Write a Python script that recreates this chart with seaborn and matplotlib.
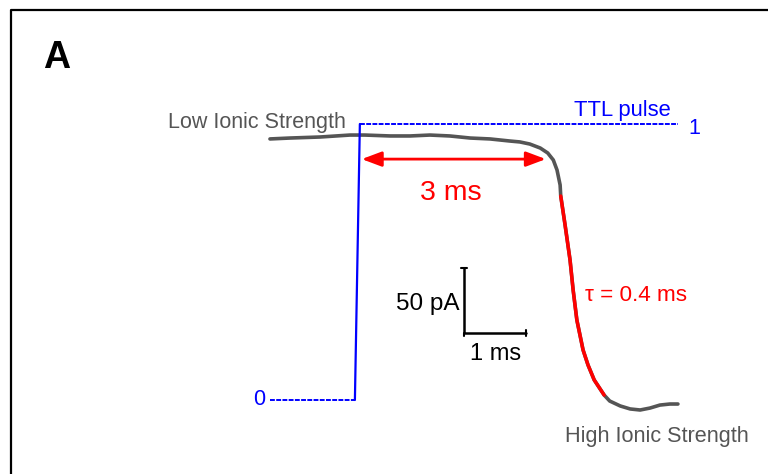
import numpy as np
import pandas as pd
import matplotlib
matplotlib.use("Agg")
import matplotlib.pyplot as plt
import seaborn as sns
from matplotlib.lines import Line2D
from matplotlib.transforms import Affine2D

# =====================================================
# Data (time in ms from TTL onset, current in pA)
# =====================================================
trace_t = [-1.42, -1.10, -0.61, -0.13, 0.11, 0.52, 0.84, 1.16, 1.48, 1.81,
           2.13, 2.45, 2.61, 2.77, 2.94, 3.06, 3.15, 3.21, 3.26, 3.27,
           3.34, 3.42, 3.47, 3.53, 3.63, 3.71, 3.81, 3.97, 4.06, 4.23,
           4.39, 4.55, 4.71, 4.87, 5.03, 5.16]
trace_i = [-1.5, -0.8, 0.0, 1.5, 1.5, 0.8, 0.8, 1.5, 0.8, -0.8,
           -1.5, -3.1, -3.8, -5.4, -8.5, -12.3, -17.7, -25.4, -36.9, -45.4,
           -67.7, -94.6, -117.7, -140.8, -163.8, -175.4, -186.9, -198.5, -203.1, -206.9,
           -209.2, -210.0, -208.5, -206.2, -205.4, -205.4]

fit_t = [3.27, 3.34, 3.42, 3.47, 3.53, 3.63, 3.71, 3.81, 3.97]
fit_i = [-45.4, -67.7, -94.6, -117.7, -140.8, -163.8, -175.4, -186.9, -198.5]

ttl_low_t = [-1.42, -0.05]
ttl_rise_t = [-0.05, 0.03]
ttl_high_t = [0.03, 5.16]
ttl_levels = [0, 1]

delay_t = [0.06, 3.03]      # "3 ms" arrow
delay_i = -17.0
tau_ms = 0.4

bar_origin = (1.71, -150.8)  # scale bar corner
bar_t = 1.0                  # ms
bar_i = 50.0                 # pA

# =====================================================
# Figure
# =====================================================
sns.set_style("white")
plt.rcParams['font.family'] = ['Liberation Sans', 'DejaVu Sans']

W, H = 768, 474
fig = plt.figure(figsize=(W / 100, H / 100), dpi=100)
ax = fig.add_axes([0, 0, 1, 1])
ax.set_xlim(-358 / 62, (W - 358) / 62)
ax.set_ylim((137 - H) / 1.3, 137 / 1.3)
ax.axis('off')

ax2 = ax.twinx()
ax2.set_ylim(-(H - 400) / 276, 1 + 124 / 276)
ax2.axis('off')

# pixel coords (top-left origin) for labels
pix = Affine2D().scale(1 / W, -1 / H).translate(0, 1) + fig.transFigure

# TTL pulse
blue = "#0000ff"
ax2.plot(ttl_low_t, [ttl_levels[0]] * 2, color=blue, lw=1.4, dashes=(2.5, 0.7))
ax2.plot(ttl_rise_t, ttl_levels, color=blue, lw=1.6)
ax2.plot(ttl_high_t, [ttl_levels[1]] * 2, color=blue, lw=1.4, dashes=(2.5, 0.7))

# current trace + fit
df = pd.DataFrame({"t": trace_t, "i": trace_i})
sns.lineplot(data=df, x="t", y="i", ax=ax, color="#555555", lw=2.6, sort=False)
sns.lineplot(x=fit_t, y=fit_i, ax=ax, color="#ff0000", lw=2.5, sort=False)

# 3 ms arrow
ax.annotate("", xy=(delay_t[1], delay_i), xytext=(delay_t[0], delay_i),
            arrowprops=dict(arrowstyle="<|-|>,head_length=1.2,head_width=0.45",
                            color="#ff0000", lw=2, shrinkA=0, shrinkB=0))

# scale bar
x0, y0 = bar_origin
ax.plot([x0, x0, x0 + bar_t], [y0 + bar_i, y0, y0], color="black", lw=1.8,
        solid_joinstyle="miter")
ax.plot([x0 - 0.05, x0 + 0.05], [y0 + bar_i] * 2, color="black", lw=1.5)
ax.plot([x0 + bar_t] * 2, [y0 - 2.5, y0 + 2.5], color="black", lw=1.5)
ax.plot([x0] * 2, [y0 - 2.5, y0], color="black", lw=1.5)

# labels
gray = "#555555"
ax.text(43, 68, "A", transform=pix, fontsize=27, fontweight="bold", color="black", va="baseline")
ax.text(168, 128, "Low Ionic Strength", transform=pix, fontsize=15.5, color=gray, va="baseline")
ax.text(574, 116, "TTL pulse", transform=pix, fontsize=15.8, color=blue, va="baseline")
ax.text(688, 134, "1", transform=pix, fontsize=15.5, color=blue, va="baseline")
ax.text(265, 405, "0", transform=pix, fontsize=15.5, color=blue, va="baseline", ha="right")
ax.text(451, 200, "3 ms", transform=pix, fontsize=20.5, color="#ff0000", va="baseline", ha="center")
ax.text(460, 310, "50 pA", transform=pix, fontsize=17.5, color="black", va="baseline", ha="right")
ax.text(470, 360, "1 ms", transform=pix, fontsize=17, color="black", va="baseline")
ax.text(585, 301, f"τ = {tau_ms} ms", transform=pix, fontsize=16.2, color="#ff0000", va="baseline")
ax.text(565, 442, "High Ionic Strength", transform=pix, fontsize=15.6, color=gray, va="baseline")

# panel border (top and left edges)
fig.add_artist(Line2D([11, 11, W + 5], [H + 5, 10, 10], transform=pix,
                      color="black", lw=1.6))

fig.savefig("out.png", dpi=100)
